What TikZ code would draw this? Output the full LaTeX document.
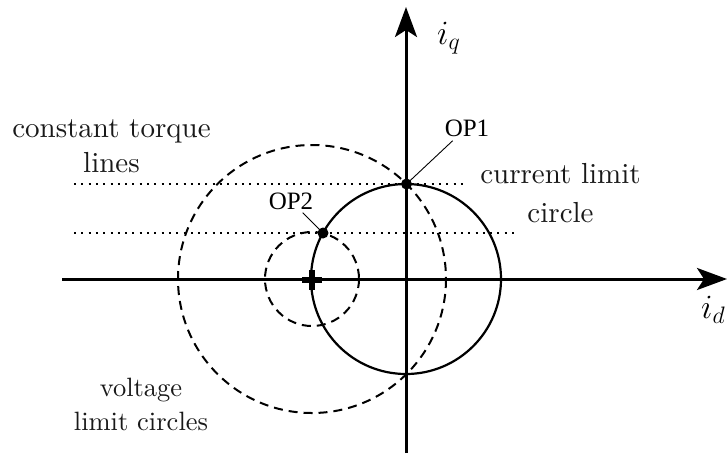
\documentclass[tikz,border=0pt]{standalone}
\usepackage{fix-cm}
\usepackage{fontspec}
\setmainfont{lmroman10-regular}[Extension=.otf]
\newfontfamily\opfont{Liberation Serif}
\usetikzlibrary{arrows.meta}
\tikzset{
  axis/.style={line width=3pt, -{Stealth[length=30pt,width=22pt,inset=7pt]}},
  solidc/.style={line width=2.2pt},
  dashc/.style={line width=2pt, dash pattern=on 9pt off 6pt},
  dotl/.style={line width=2pt, dash pattern=on 2pt off 5.3pt},
  leader/.style={line width=0.9pt},
  opdot/.style={circle, fill=black, inner sep=0pt, minimum size=11pt},
  oplabel/.style={font=\opfont\fontsize{25}{30}\selectfont, inner sep=0pt},
  lbl/.style={inner sep=0pt, align=center, text=black!90},
  mathlbl/.style={inner sep=0pt, font=\fontsize{34}{40}\selectfont},
  crossline/.style={line width=6pt}
}
\begin{document}
\begin{tikzpicture}[x=1pt,y=-1pt]
\fill[white] (0,0) rectangle (728,456);
\useasboundingbox (0,0) rectangle (728,456);
% origin and centre of voltage circles
\coordinate (O) at (406,279);
\coordinate (C) at (312,279);
% dotted constant torque lines
\coordinate (d1a) at (74,184);
\coordinate (d1b) at (465,184);
\coordinate (d2a) at (74,233);
\coordinate (d2b) at (517,233);
\draw[dotl] (d1a) -- (d1b);
\draw[dotl] (d2a) -- (d2b);
% circles
\draw[dashc] (C) circle[radius=134];
\draw[dashc] (C) circle[radius=47];
\draw[solidc] (O) circle[radius=95];
% axes
\coordinate (xl) at (62,279);
\coordinate (xr) at (727,279);
\coordinate (yb) at (406,453);
\coordinate (yt) at (406,7);
\draw[axis] (xl) -- (xr);
\draw[axis] (yb) -- (yt);
% cross marker
\coordinate (crl) at (302,280);
\coordinate (crr) at (322,280);
\coordinate (crt) at (312,270);
\coordinate (crb) at (312,290);
\draw[crossline] (crl) -- (crr);
\draw[crossline] (crt) -- (crb);
% operating points
\node[opdot] (op1) at (406.5,184) {};
\node[opdot] (op2) at (323,233) {};
\node[oplabel, anchor=base] (op1lab) at (467,136) {OP1};
\node[oplabel, anchor=base] (op2lab) at (291,209) {OP2};
\coordinate (op1l) at (452.7,140.7);
\coordinate (op2l) at (302.7,212.7);
\draw[leader] (op1l) -- (op1.center);
\draw[leader] (op2l) -- (op2.center);
% labels (base anchor = baseline of last line)
\node[lbl, anchor=base, font=\fontsize{29}{35}\selectfont] (torq) at (111.5,172) {constant torque\\lines};
\node[lbl, anchor=base, font=\fontsize{29}{39}\selectfont] (curr) at (560.5,222) {current limit\\circle};
\node[lbl, anchor=base, font=\fontsize{26.5}{34}\selectfont] (volt) at (141,430) {voltage\\limit circles};
\node[mathlbl, anchor=base west] (iq) at (437,44) {$i_q$};
\node[mathlbl, anchor=base west] (id) at (701,318) {$i_d$};
\end{tikzpicture}
\end{document}
